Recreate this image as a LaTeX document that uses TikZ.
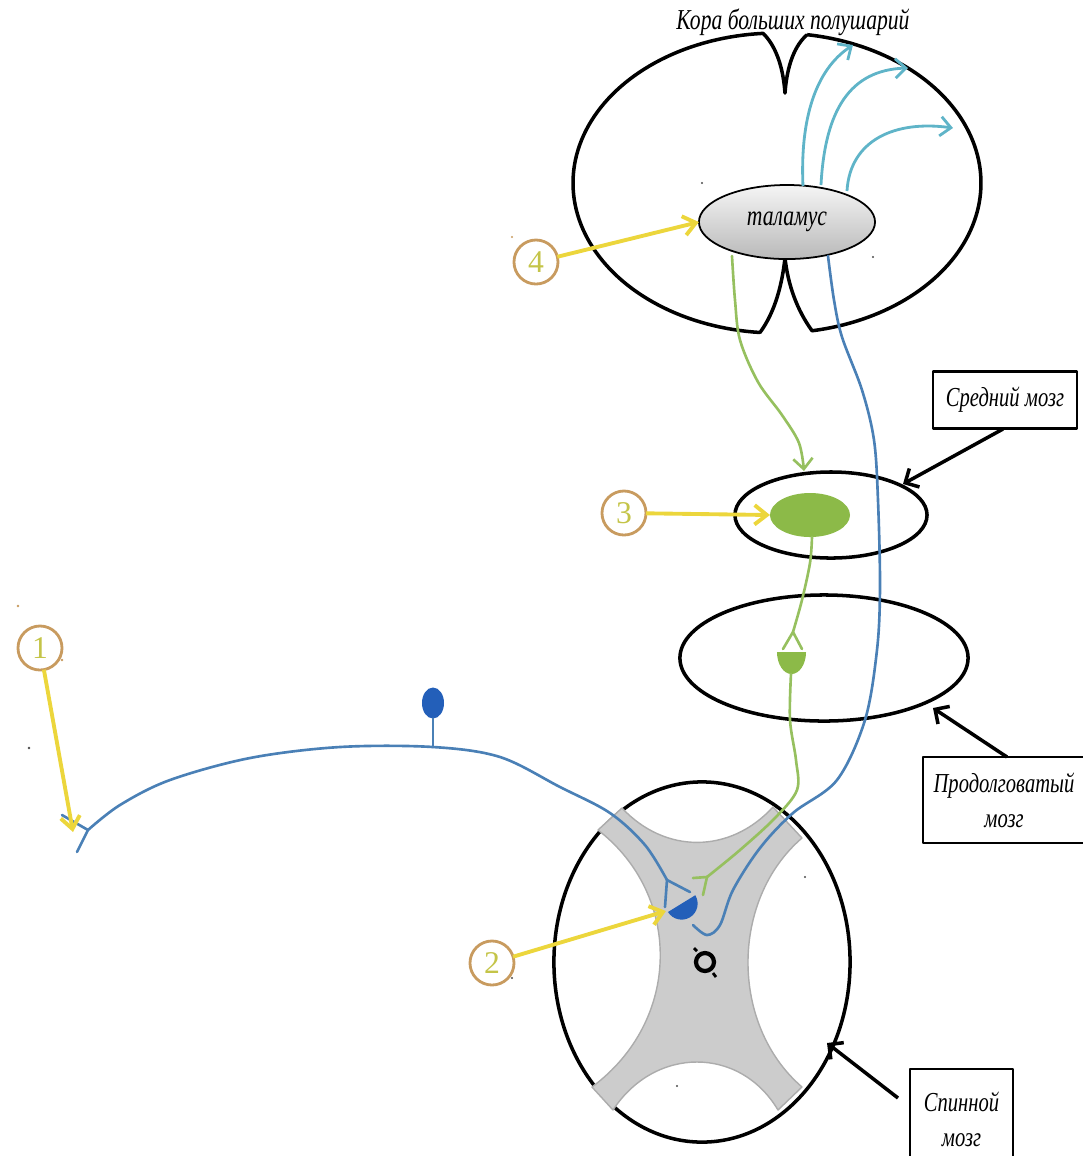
\documentclass[tikz,border=0pt]{standalone}
\usepackage{fontspec}
\setmainfont{Liberation Serif}
\newfontfamily\lblfont[FakeStretch=0.75]{Liberation Serif}
\usetikzlibrary{arrows.meta,shapes.geometric}
\definecolor{fiber}{RGB}{74,128,182}
\definecolor{soma}{RGB}{35,95,185}
\definecolor{tract}{RGB}{150,192,95}
\definecolor{nucleus}{RGB}{140,186,72}
\definecolor{relaycol}{RGB}{95,180,200}
\definecolor{markline}{RGB}{236,214,60}
\definecolor{markring}{RGB}{200,155,95}
\definecolor{markdigit}{RGB}{196,196,72}
\definecolor{matter}{RGB}{204,204,204}
\begin{document}
\begin{tikzpicture}[x=0.01cm, y=-0.01cm, line join=round,
  every node/.style={inner sep=0pt, outer sep=0pt},
  organ/.style={draw=black, line width=1pt, ellipse},
  organline/.style={draw=black, line width=1pt},
  fiberline/.style={draw=fiber, line width=0.75pt, line cap=round},
  greenline/.style={draw=tract, line width=0.75pt, line cap=round},
  relay/.style={draw=relaycol, line width=0.8pt, -{Straight Barb[length=3pt,width=5.5pt]}},
  pointer/.style={draw=markline, line width=1.1pt, -{Straight Barb[length=3.5pt,width=5.5pt]}},
  marker/.style={circle, draw=markring, line width=0.8pt, minimum size=0.44cm,
    text=markdigit, font=\fontsize{9}{9}\selectfont},
  callout/.style={draw=black, line width=1pt, -{Straight Barb[length=3pt,width=6pt]}},
  labelbox/.style={draw=black, line width=0.7pt, rectangle, align=center,
    font=\lblfont\itshape\fontsize{7.8}{10}\selectfont},
  tag/.style={font=\lblfont\itshape\fontsize{8.2}{10}\selectfont},
  speck/.style={fill=black!70}
]
\useasboundingbox (0,0) rectangle (1083,1156);

% ---------- spinal cord ----------
\node[organ, minimum width=2.96cm, minimum height=3.60cm] (spinal) at (702,962) {};
\filldraw[fill=matter, draw=gray!65, line width=0.4pt]
  (622,808) .. controls (665,854) and (730,854) .. (773,807)
  -- (802,838) .. controls (730,900) and (730,1025) .. (802,1087)
  -- (778,1110) .. controls (740,1046) and (655,1046) .. (613,1110)
  -- (592,1087) .. controls (682,1020) and (682,895) .. (598,830) -- cycle;
\node[circle, draw=black, line width=1.2pt, minimum size=0.18cm] (canal) at (705,962) {};
\draw[line width=0.8pt] (697,951) -- (694,948);
\draw[line width=0.8pt] (713,973) -- (716,977);

% ---------- medulla and midbrain ----------
\node[organ, minimum width=2.88cm, minimum height=1.26cm] (medulla) at (824,658) {};
\node[organ, minimum width=1.92cm, minimum height=0.86cm] (midbrain) at (831,515) {};
\node[ellipse, fill=nucleus, minimum width=0.80cm, minimum height=0.44cm] (nuc) at (810,515) {};

% ---------- hemispheres ----------
\draw[organline]
  plot[domain=278.5:440.1, samples=90, variable=\t] ({777+204*cos(\t)},{183+150*sin(\t)})
  .. controls (797,310) and (788,285) .. (785,258)
  .. controls (782,285) and (775,312) .. (760,332.5)
  -- plot[domain=94.8:266.1, samples=90, variable=\t] ({777+204*cos(\t)},{183+150*sin(\t)})
  .. controls (775,45) and (783,65) .. (785,93)
  .. controls (787,65) and (795,45) .. (807.2,34.6);
\node[tag] (cortex) at (793,22) {Кора больших полушарий};

\node[ellipse, draw=black, line width=0.5pt, top color=gray!8, bottom color=gray!55,
  minimum width=1.76cm, minimum height=0.74cm, tag] (thal) at (787,222) {таламус};

% ---------- relay fibres to the cortex ----------
\coordinate (r1) at (803,186);
\coordinate (r2) at (821,185);
\coordinate (r3) at (847,191);
\coordinate (r1e) at (853,45);
\coordinate (r2e) at (908,68);
\coordinate (r3e) at (953,128);
\draw[relay] (r1) .. controls (800,120) and (815,70) .. (r1e);
\draw[relay] (r2) .. controls (825,110) and (850,70) .. (r2e);
\draw[relay] (r3) .. controls (850,140) and (895,120) .. (r3e);

% ---------- sensory neuron ----------
\coordinate (dend) at (88,830);
\coordinate (dendA) at (62,815);
\coordinate (dendB) at (77,852);
\coordinate (stem) at (433,747);
\coordinate (fork1) at (667,880);
\coordinate (fork1a) at (665,907);
\coordinate (fork1b) at (690,892);
\draw[fiberline] plot[smooth, tension=0.55] coordinates
  {(dend) (120,805) (170,780) (250,758) (340,747) (stem) (500,757) (560,787) (610,813) (645,845) (fork1)};
\draw[fiberline] (dend) -- (dendA);
\draw[fiberline] (dend) -- (dendB);
\draw[fiberline] (fork1) -- (fork1a);
\draw[fiberline] (fork1) -- (fork1b);
\node[ellipse, fill=soma, minimum width=0.22cm, minimum height=0.31cm] (ganglion) at (433,703) {};
\draw[fiberline] (stem) -- (ganglion.south);

% ---------- second neuron in the dorsal horn ----------
\coordinate (som2) at (681,904);
\coordinate (som2a) at (668,912);
\fill[soma] (som2a) arc[start angle=211.6, end angle=391.6, radius=0.16cm] -- cycle;
\coordinate (axStart) at (693,925);
\coordinate (axEnd) at (828,256);
\draw[fiberline] plot[smooth, tension=0.55] coordinates
  {(axStart) (707,935) (720,925) (733,890) (760,848) (793,813) (837,780) (865,720)
   (877,650) (880,587) (878,500) (874,440) (862,390) (842,337) (834,300) (axEnd)};

% ---------- green pathway ----------
\coordinate (g1s) at (732,256);
\coordinate (g1e) at (804,471);
\draw[greenline, -{Straight Barb[length=3pt,width=5.5pt]}] plot[smooth, tension=0.55] coordinates
  {(g1s) (735,300) (740,340) (758,382) (782,415) (799,443) (g1e)};
\coordinate (g2s) at (812,537);
\coordinate (g2f) at (793,632);
\draw[greenline] plot[smooth, tension=0.55] coordinates {(g2s) (810,563) (802,600) (g2f)};
\draw[greenline] (g2f) -- (783,649);
\draw[greenline] (g2f) -- (802,649);
\coordinate (g2b) at (777,652);
\fill[nucleus] (g2b) arc[start angle=180, end angle=360, x radius=0.145cm, y radius=0.22cm] -- cycle;
\coordinate (g3s) at (791,674);
\coordinate (g3f) at (707,877);
\draw[greenline] plot[smooth, tension=0.55] coordinates
  {(g3s) (790,720) (796,760) (797,790) (775,818) (740,850) (g3f)};
\draw[greenline] (g3f) -- (693,878);
\draw[greenline] (g3f) -- (703,895);

% ---------- numbered markers ----------
\node[marker] (m1) at (40,648) {1};
\node[marker] (m2) at (492,963) {2};
\node[marker] (m3) at (624,513) {3};
\node[marker] (m4) at (536,262) {4};
\coordinate (t1) at (73,832);
\coordinate (t2) at (666,911);
\draw[pointer] (m1) -- (t1);
\draw[pointer] (m2) -- (t2);
\draw[pointer] (m3) -- (nuc.west);
\draw[pointer] (m4) -- (thal.west);

% ---------- labelled boxes ----------
\node[labelbox, minimum width=1.44cm, minimum height=0.57cm] (bmid) at (1005,400) {Средний мозг};
\node[labelbox, minimum width=1.62cm, minimum height=0.86cm] (bmed) at (1004,800) {Продолговатый\\мозг};
\node[labelbox, minimum width=1.03cm, minimum height=1.01cm] (bsp) at (961.5,1119.5) {Спинной\\мозг};
\coordinate (cmid) at (1003,429);
\coordinate (cmidt) at (903,484);
\coordinate (cmed) at (1007,757);
\coordinate (cmedt) at (933,708);
\coordinate (csp) at (898,1098);
\coordinate (cspt) at (827,1043);
\draw[callout] (cmid) -- (cmidt);
\draw[callout] (cmed) -- (cmedt);
\draw[callout] (csp) -- (cspt);

% ---------- stray specks ----------
\fill[speck] (702,183) circle[radius=0.012cm];
\fill[speck] (873,257) circle[radius=0.012cm];
\fill[speck] (29,748) circle[radius=0.014cm];
\fill[speck] (512,978) circle[radius=0.012cm];
\fill[speck] (805,877) circle[radius=0.012cm];
\fill[speck] (677,1086) circle[radius=0.012cm];
\fill[markring] (18,606) circle[radius=0.014cm];
\fill[markring] (62,660) circle[radius=0.014cm];
\fill[markring] (512,237) circle[radius=0.012cm];
\end{tikzpicture}
\end{document}
